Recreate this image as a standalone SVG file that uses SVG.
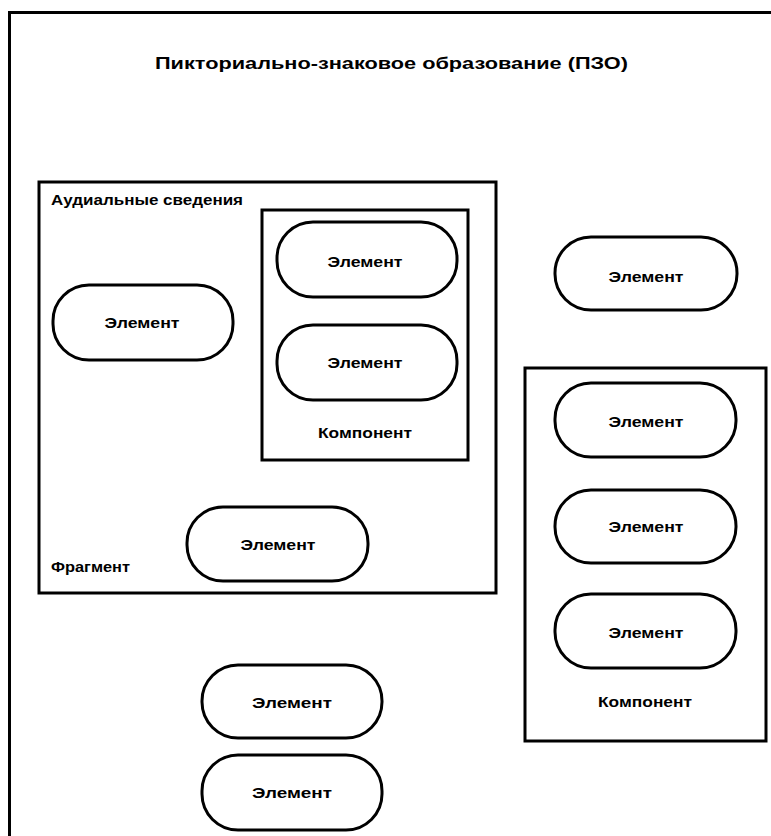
<svg xmlns="http://www.w3.org/2000/svg" width="771" height="836" viewBox="0 0 771 836">
<style>
.box{fill:none;stroke:#000;stroke-width:3}
.pill{fill:#fff;stroke:#000;stroke-width:3}
.t{font-family:"Liberation Sans",Arial,sans-serif;font-weight:bold;fill:#000}
.el{font-size:14px;text-anchor:middle}
.lbl{font-size:14px}
</style>
<rect width="771" height="836" fill="#fff"/>
<g id="frame">
<path d="M9.5,840 V12.5 H775" class="box"/>
<text class="t" x="155" y="69" font-size="17" textLength="473" lengthAdjust="spacingAndGlyphs">Пикториально-знаковое образование (ПЗО)</text>
</g>
<g id="fragment">
<rect class="box" x="39" y="182" width="457" height="411"/>
<text class="t lbl" x="51" y="205" textLength="192" lengthAdjust="spacingAndGlyphs">Аудиальные сведения</text>
<text class="t lbl" x="51" y="572" textLength="79" lengthAdjust="spacingAndGlyphs">Фрагмент</text>
</g>
<g id="component1">
<rect class="box" x="262" y="210" width="206" height="250" stroke-width="2.5"/>
<text class="t el" x="365" y="438" textLength="94" lengthAdjust="spacingAndGlyphs">Компонент</text>
</g>
<g id="component2">
<rect class="box" x="525" y="368" width="241" height="373" stroke-width="2.5"/>
<text class="t el" x="645" y="707" textLength="94" lengthAdjust="spacingAndGlyphs">Компонент</text>
</g>
<g id="el1"><rect class="pill" x="53" y="285" width="180" height="75" rx="36"/><text class="t el" x="142" y="328" textLength="75" lengthAdjust="spacingAndGlyphs">Элемент</text></g>
<g id="el2"><rect class="pill" x="277" y="222" width="180" height="75" rx="36"/><text class="t el" x="365" y="267" textLength="75" lengthAdjust="spacingAndGlyphs">Элемент</text></g>
<g id="el3"><rect class="pill" x="277" y="325" width="180" height="75" rx="36"/><text class="t el" x="365" y="368" textLength="75" lengthAdjust="spacingAndGlyphs">Элемент</text></g>
<g id="el4"><rect class="pill" x="187" y="507" width="181" height="74" rx="36"/><text class="t el" x="278" y="550" textLength="75" lengthAdjust="spacingAndGlyphs">Элемент</text></g>
<g id="el5"><rect class="pill" x="555" y="237" width="182" height="73" rx="36"/><text class="t el" x="646" y="282" textLength="75" lengthAdjust="spacingAndGlyphs">Элемент</text></g>
<g id="el6"><rect class="pill" x="555" y="383" width="181" height="74" rx="36"/><text class="t el" x="646" y="427" textLength="75" lengthAdjust="spacingAndGlyphs">Элемент</text></g>
<g id="el7"><rect class="pill" x="555" y="490" width="181" height="73" rx="36"/><text class="t el" x="646" y="532" textLength="75" lengthAdjust="spacingAndGlyphs">Элемент</text></g>
<g id="el8"><rect class="pill" x="555" y="594" width="181" height="74" rx="36"/><text class="t el" x="646" y="638" textLength="75" lengthAdjust="spacingAndGlyphs">Элемент</text></g>
<g id="el9"><rect class="pill" x="202" y="665" width="180" height="73" rx="36"/><text class="t el" x="292" y="708" textLength="80" lengthAdjust="spacingAndGlyphs">Элемент</text></g>
<g id="el10"><rect class="pill" x="202" y="755" width="180" height="75" rx="36"/><text class="t el" x="292" y="798" textLength="80" lengthAdjust="spacingAndGlyphs">Элемент</text></g>
<g id="connectors"/>
</svg>
